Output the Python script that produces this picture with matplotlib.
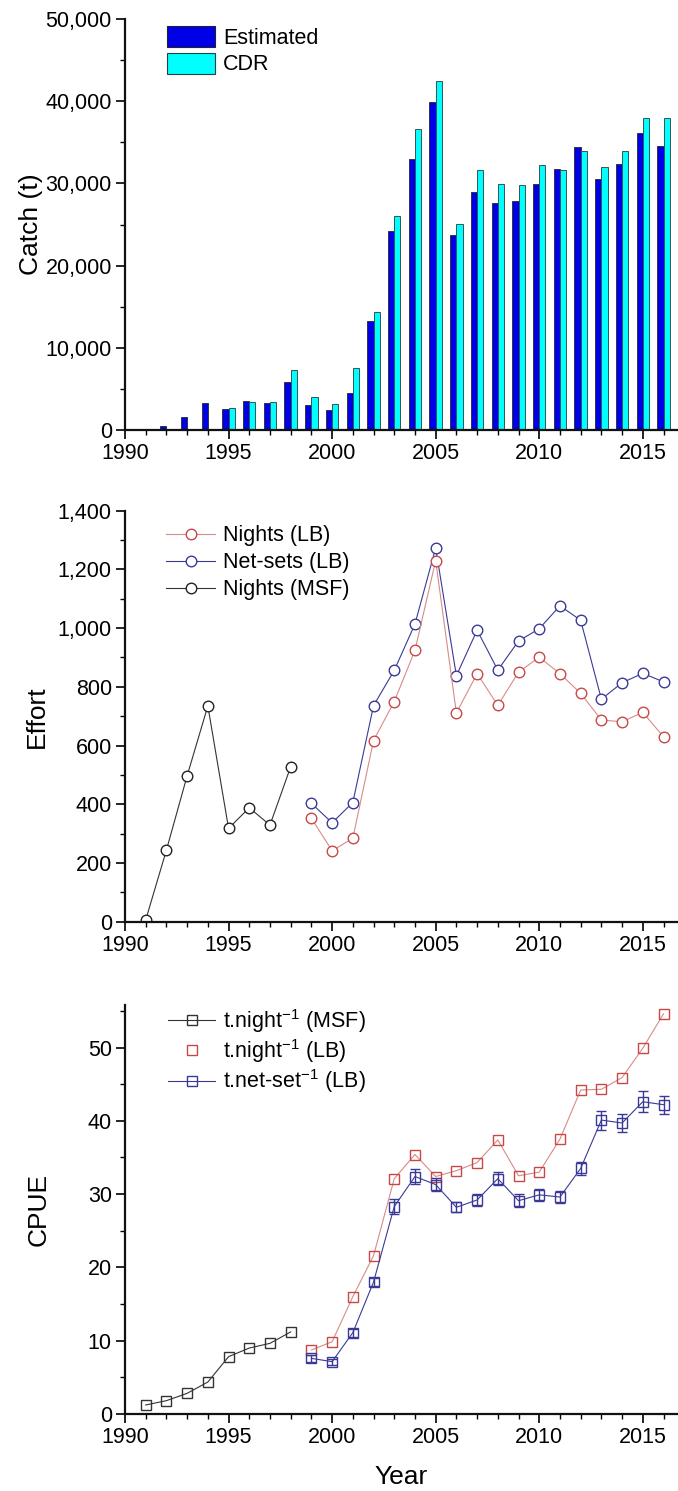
#!/usr/bin/env python3
"""Catch, fishing effort and CPUE by year, three stacked panels."""

import matplotlib

matplotlib.use("Agg")
import matplotlib.pyplot as plt
from matplotlib.lines import Line2D
from matplotlib.patches import Patch
from matplotlib.ticker import FuncFormatter, MultipleLocator

plt.rcParams["font.family"] = ["Liberation Sans", "DejaVu Sans"]
plt.rcParams["mathtext.fontset"] = "custom"
plt.rcParams["mathtext.rm"] = "Liberation Sans"
plt.rcParams["mathtext.it"] = "Liberation Sans:italic"

# --- catch (t) ---
catch_years = list(range(1992, 2017))
catch_estimated = [530, 1540, 3250, 2500, 3530, 3250, 5880, 3040, 2430, 4540,
                   13310, 24190, 32950, 39850, 23740, 29010, 27670, 27800,
                   29910, 31810, 34450, 30520, 32340, 36080, 34570]
catch_cdr = [0, 0, 0, 2640, 3450, 3450, 7260, 4060, 3200, 7500,
             14400, 26050, 36640, 42490, 25120, 31570, 29910, 29830,
             32180, 31570, 33970, 31980, 33970, 37940, 37940]

# --- effort ---
msf_years = list(range(1991, 1999))
lb_years = list(range(1999, 2017))
effort_nights_msf = [6, 244, 497, 735, 318, 388, 329, 528]
effort_nights_lb = [352, 242, 284, 617, 750, 924, 1230, 711, 845, 737, 850,
                    901, 845, 778, 687, 681, 713, 630]
effort_netsets_lb = [403, 337, 406, 736, 856, 1014, 1273, 838, 993, 857, 956,
                     998, 1076, 1027, 758, 814, 846, 817]

# --- CPUE ---
cpue_night_msf = [1.23, 1.82, 2.82, 4.36, 7.82, 9.0, 9.64, 11.2]
cpue_night_lb = [8.73, 9.86, 16.0, 21.6, 32.1, 35.4, 32.4, 33.2, 34.3, 37.4,
                 32.5, 33.0, 37.5, 44.2, 44.3, 45.9, 49.9, 54.6]
cpue_netset_lb = [7.59, 7.14, 11.1, 18.0, 28.3, 32.4, 31.3, 28.2, 29.2, 32.1,
                  29.1, 29.9, 29.6, 33.5, 40.1, 39.7, 42.6, 42.2]
cpue_netset_err = [0.5, 0.4, 0.55, 0.6, 1.0, 1.0, 0.85, 0.7, 0.85, 0.9,
                   0.85, 0.85, 0.85, 0.9, 1.3, 1.27, 1.4, 1.25]

BLUE_BAR = "#0000e6"
CYAN_BAR = "#00ffff"
RED = "#c84848"
RED_LINE = "#d98a8a"
NAVY = "#3a3a96"
BLACK = "#333333"
TICK_FS = 15.5
LABEL_FS = 19
LEGEND_FS = 15.5

W, H = 678, 1491
fig = plt.figure(figsize=(W / 100, H / 100), dpi=100)


def px_axes(left, top, right, bottom):
    return fig.add_axes([left / W, 1 - bottom / H, (right - left) / W, (bottom - top) / H])


def style_axis(ax, ymajor, yminor):
    for side in ("top", "right"):
        ax.spines[side].set_visible(False)
    for side in ("left", "bottom"):
        ax.spines[side].set_linewidth(1.6)
        ax.spines[side].set_color("#111111")
    ax.set_xlim(1990, 2016.7)
    ax.xaxis.set_major_locator(MultipleLocator(5))
    ax.xaxis.set_minor_locator(MultipleLocator(1))
    ax.yaxis.set_major_locator(MultipleLocator(ymajor))
    ax.yaxis.set_minor_locator(MultipleLocator(yminor))
    ax.tick_params(which="major", direction="out", length=6.5, width=1.2,
                   labelsize=TICK_FS, pad=3)
    ax.tick_params(which="minor", direction="out", length=3.5, width=1.0)


ax1 = px_axes(125, 19, 678, 430)
ax2 = px_axes(125, 510.7, 678, 921.7)
ax3 = px_axes(125, 1005, 678, 1414)

# panel 1: paired bars, estimated left of the year tick, CDR right of it
bw = 0.30
ax1.bar([y - bw / 2 for y in catch_years], catch_estimated, width=bw,
        color=BLUE_BAR, edgecolor="#333344", linewidth=0.7)
ax1.bar([y + bw / 2 for y in catch_years], catch_cdr, width=bw,
        color=CYAN_BAR, edgecolor="#335555", linewidth=0.7)
style_axis(ax1, 10000, 5000)
ax1.set_ylim(0, 50000)
ax1.yaxis.set_major_formatter(FuncFormatter(lambda v, _: f"{int(v):,}"))
ax1.set_ylabel("Catch (t)", fontsize=LABEL_FS, va="center")
ax1.yaxis.set_label_coords(-0.170, 0.5)
ax1.legend(
    handles=[Patch(facecolor=BLUE_BAR, edgecolor="#222233", linewidth=0.8, label="Estimated"),
             Patch(facecolor=CYAN_BAR, edgecolor="#224444", linewidth=0.8, label="CDR")],
    loc="upper left", bbox_to_anchor=(0.076, 0.983), frameon=False,
    fontsize=LEGEND_FS, handlelength=2.25, handleheight=1.12,
    handletextpad=0.35, labelspacing=0.18, borderpad=0, borderaxespad=0,
)

# panel 2: effort lines with open circles
circ = dict(marker="o", markersize=7.6, markerfacecolor="white", markeredgewidth=1.0)
ax2.plot(msf_years, effort_nights_msf, color=BLACK, linewidth=0.8,
         markeredgecolor="#222222", **circ)
ax2.plot(lb_years, effort_netsets_lb, color=NAVY, linewidth=0.8,
         markeredgecolor=NAVY, **circ)
ax2.plot(lb_years, effort_nights_lb, color=RED_LINE, linewidth=0.8,
         markeredgecolor=RED, **circ)
style_axis(ax2, 200, 100)
ax2.set_ylim(0, 1400)
ax2.yaxis.set_major_formatter(FuncFormatter(lambda v, _: f"{int(v):,}"))
ax2.set_ylabel("Effort", fontsize=LABEL_FS, va="center")
ax2.yaxis.set_label_coords(-0.159, 0.5)
ax2.legend(
    handles=[Line2D([], [], color=RED_LINE, linewidth=0.8, markeredgecolor=RED, **circ),
             Line2D([], [], color=NAVY, linewidth=0.8, markeredgecolor=NAVY, **circ),
             Line2D([], [], color=BLACK, linewidth=0.8, markeredgecolor="#222222", **circ)],
    labels=["Nights (LB)", "Net-sets (LB)", "Nights (MSF)"],
    loc="upper left", bbox_to_anchor=(0.074, 0.965), frameon=False,
    fontsize=LEGEND_FS, handlelength=2.3, handletextpad=0.35,
    labelspacing=0.28, borderpad=0, borderaxespad=0,
)

# panel 3: CPUE with open squares, net-set series carries error bars
sq = dict(marker="s", markersize=6.6, markerfacecolor="none", markeredgewidth=1.0)
ax3.plot(msf_years, cpue_night_msf, color=BLACK, linewidth=0.8,
         markeredgecolor="#333333", **sq)
ax3.plot(lb_years, cpue_night_lb, color=RED_LINE, linewidth=0.8,
         markeredgecolor=RED, **sq)
ax3.errorbar(lb_years, cpue_netset_lb, yerr=cpue_netset_err, color=NAVY,
             linewidth=0.8, ecolor=NAVY, elinewidth=1.0, capsize=3.4,
             capthick=1.0, markeredgecolor=NAVY, **sq)
style_axis(ax3, 10, 5)
ax3.set_ylim(0, 55.8)
ax3.set_ylabel("CPUE", fontsize=LABEL_FS, va="center")
ax3.yaxis.set_label_coords(-0.156, 0.5)
ax3.set_xlabel("Year", fontsize=LABEL_FS, va="center")
ax3.xaxis.set_label_coords(0.5, -0.154)
ax3.legend(
    handles=[Line2D([], [], color=BLACK, linewidth=0.8, markeredgecolor="#333333", **sq),
             Line2D([], [], linestyle="none", markeredgecolor=RED, **sq),
             Line2D([], [], color=NAVY, linewidth=0.8, markeredgecolor=NAVY, **sq)],
    labels=[r"t.night$^{-1}$ (MSF)", r"t.night$^{-1}$ (LB)", r"t.net-set$^{-1}$ (LB)"],
    loc="upper left", bbox_to_anchor=(0.078, 0.995), frameon=False,
    fontsize=LEGEND_FS, handlelength=2.2, handletextpad=0.35,
    labelspacing=0.1, borderpad=0, borderaxespad=0,
)

fig.savefig("out.png", dpi=100)
plt.close(fig)
